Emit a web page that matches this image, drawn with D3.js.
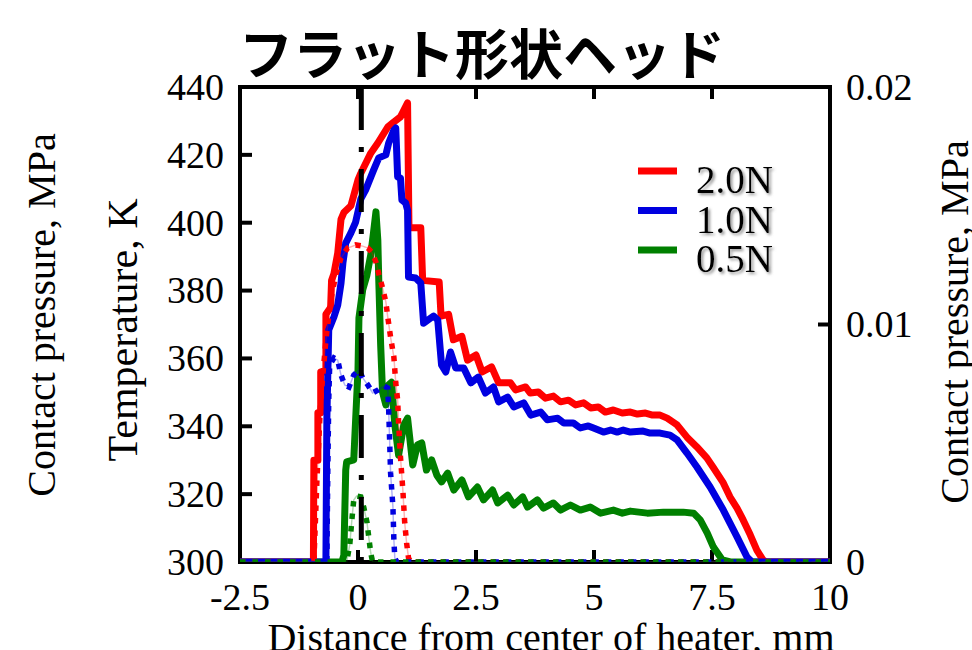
<!DOCTYPE html>
<html>
<head>
<meta charset="utf-8">
<script src="https://cdn.jsdelivr.net/npm/d3@7"></script>
<style>
  body { margin: 0; background: #fff; }
  svg { display: block; }
  text { font-family: "Liberation Serif", "Times New Roman", serif; fill: #000; }
</style>
</head>
<body>
<svg class="heat-chart" width="972" height="650"></svg>
<script>
// x: distance from heater center (mm), temperature in K
const temp20 = [
  [-2.5,300],[-0.945,300],[-0.935,330],[-0.85,330],[-0.85,344],[-0.79,344],[-0.79,356],[-0.68,356],
  [-0.68,373],[-0.58,375],[-0.56,383],[-0.51,385],[-0.43,391],[-0.36,401],[-0.3,403],[-0.15,405],
  [0,412.6],[0.06,414.6],[0.27,420.5],[0.42,423.5],[0.63,428.2],[0.76,429.7],[0.9,431.2],[1.05,435.3],
  [1.08,398.5],[1.33,398.5],[1.37,383],[1.72,382.5],[1.76,372.5],[1.92,373],[2.02,365.5],[2.2,366.5],
  [2.32,359.5],[2.5,361],[2.63,356],[2.83,357.5],[2.98,352.8],[3.23,352.8],[3.34,350.7],[3.55,351.6],
  [3.65,349.8],[3.82,350.1],[3.97,348.3],[4.14,348.9],[4.29,347.2],[4.46,347.7],[4.61,346.3],[4.78,346.9],
  [4.93,345.4],[5.09,345.7],[5.24,344.2],[5.41,344.8],[5.6,343.9],[5.77,344.2],[5.92,343.6],[6.09,343.9],
  [6.24,343.3],[6.4,343.3],[6.55,342.4],[6.76,340.4],[6.97,336.8],[7.18,333.9],[7.39,330.7],[7.52,328],
  [7.74,323.3],[7.88,319.2],[8.03,315.9],[8.16,312.4],[8.31,308],[8.45,303.5],[8.58,300.6],[8.65,300],[10,300]
]
const temp10 = [
  [-2.5,300],[-0.68,300],[-0.66,341.9],[-0.62,368.4],[-0.51,372.2],[-0.43,375.7],[-0.36,382.2],[-0.32,388.1],
  [-0.26,394],[-0.15,397],[-0.05,400.2],[0.06,407],[0.16,409.6],[0.33,415.5],[0.44,419.1],[0.59,420],
  [0.65,423.5],[0.76,427.3],[0.8,427.9],[0.84,413.5],[0.9,413.2],[0.93,406.7],[1.01,405.8],[1.05,403.7],
  [1.07,384],[1.22,383.7],[1.33,382.2],[1.39,370.4],[1.6,372.5],[1.69,371.3],[1.77,358.1],[1.86,356],
  [1.96,361.9],[2.07,357.2],[2.24,357.2],[2.39,352.8],[2.55,354.5],[2.7,349.8],[2.87,351.6],[2.98,347.2],
  [3.17,348.6],[3.3,345.7],[3.51,346.9],[3.66,343.3],[3.87,344.2],[4.01,341.9],[4.23,342.4],[4.36,341],
  [4.56,341],[4.71,339.5],[4.88,340.1],[4.99,339.5],[5.2,338.3],[5.35,338.9],[5.49,338.3],[5.62,338.9],
  [5.77,338.3],[6.04,338.6],[6.19,338],[6.4,338],[6.61,337.4],[6.76,336],[6.97,332.1],[7.18,328],
  [7.46,322.1],[7.74,315.3],[8.03,307.4],[8.24,301.5],[8.35,300],[10,300]
]
const temp05 = [
  [-2.5,300],[-0.34,300],[-0.3,302],[-0.26,327.1],[-0.24,329.5],[-0.09,330.1],[-0.05,341.9],[0,356.6],
  [0.02,371.9],[0.1,380.2],[0.19,384.6],[0.27,390.5],[0.33,397.3],[0.38,403.2],[0.42,394.9],[0.44,383.1],
  [0.48,364],[0.52,350.1],[0.59,346.3],[0.65,352.2],[0.71,353],[0.78,340.4],[0.86,331.5],[0.97,340.4],
  [1.05,342.4],[1.16,328.6],[1.26,334.5],[1.35,335.1],[1.45,327.1],[1.56,330.1],[1.67,325.6],[1.77,323.6],
  [1.9,326.2],[2.03,321.2],[2.2,324.2],[2.34,319.2],[2.53,322.1],[2.66,318.3],[2.85,321.2],[2.96,317.4],
  [3.17,319.7],[3.3,316.8],[3.49,319.2],[3.59,316.2],[3.8,318.3],[3.93,315.9],[4.14,317.4],[4.29,315.3],
  [4.5,316.8],[4.71,315.3],[4.92,316.2],[5.14,314.4],[5.41,315.3],[5.6,314.4],[5.77,315],[6.13,314.4],
  [6.47,314.7],[6.89,314.7],[7.11,314.4],[7.25,312.4],[7.4,308.5],[7.53,304.4],[7.72,300.6],[7.89,300],[10,300]
]
// contact pressure in MPa (right axis)
const press20 = [
  [-2.5,0],[-0.935,0],[-0.87,0.00345],[-0.79,0.00682],[-0.68,0.00935],[-0.58,0.01103],[-0.47,0.01208],
  [-0.36,0.0128],[-0.22,0.01322],[-0.05,0.01335],[0.1,0.0133],[0.21,0.01322],[0.29,0.01305],[0.38,0.01263],
  [0.44,0.01213],[0.52,0.01154],[0.59,0.01095],[0.63,0.01032],[0.69,0.00947],[0.76,0.00863],[0.8,0.00754],
  [0.84,0.00682],[0.86,0.00585],[0.9,0.00442],[0.95,0.00303],[0.99,0.00164],[1.03,0.0008],[1.07,0.00017],
  [1.12,0],[10,0]
]
const press10 = [
  [-2.5,0],[-0.66,0],[-0.64,0.00387],[-0.62,0.00682],[-0.6,0.00829],[-0.51,0.00859],[-0.43,0.0085],
  [-0.36,0.00787],[-0.28,0.00745],[-0.19,0.00737],[-0.09,0.00787],[0.02,0.00808],[0.1,0.00775],[0.21,0.00745],
  [0.31,0.00712],[0.42,0.00724],[0.55,0.00741],[0.63,0.00733],[0.65,0.0064],[0.67,0.00514],[0.69,0.00375],
  [0.74,0.00232],[0.76,0.00093],[0.78,0.00017],[0.82,0],[10,0]
]
const press05 = [
  [-2.5,0],[-0.24,0],[-0.175,0.00072],[-0.13,0.00177],[-0.09,0.00261],[-0.03,0.00278],[0.06,0.00274],
  [0.12,0.00232],[0.19,0.00168],[0.23,0.00101],[0.27,0.00038],[0.31,0],[10,0]
]
const heaterCenter = 0.07

const xTicks = [-2.5,0,2.5,5,7.5,10]
const xTickLabels = ['-2.5','0','2.5','5','7.5','10']
const yTicks = [300,320,340,360,380,400,420,440]
const y2Ticks = [0,0.01,0.02]
const y2TickLabels = ['0','0.01','0.02']
const legendLabels = ['2.0N','1.0N','0.5N']
const colors = ['#ff0000','#0000e0','#008000']

const svg = d3.select('svg.heat-chart')
const pLeft = 240, pRight = 830, pTop = 87, pBottom = 562

const x = d3.scaleLinear().domain([-2.5,10]).range([pLeft,pRight])
const y = d3.scaleLinear().domain([300,440]).range([pBottom,pTop])
const y2 = d3.scaleLinear().domain([0,0.02]).range([pBottom,pTop])

const defs = svg.append('defs')
defs.append('clipPath').attr('id','plotClip')
    .append('rect').attr('x',pLeft).attr('y',pTop).attr('width',pRight-pLeft).attr('height',pBottom-pTop)
defs.append('filter').attr('id','shadow').attr('x','-20%').attr('y','-20%').attr('width','150%').attr('height','150%')
    .append('feDropShadow').attr('dx',2).attr('dy',2).attr('stdDeviation',1.5)
    .attr('flood-color','#777').attr('flood-opacity',0.8)

// title
svg.append('text')
   .attr('x',482).attr('y',75)
   .attr('text-anchor','middle')
   .style('font-family','"Noto Sans CJK JP", sans-serif')
   .style('font-weight','700').style('font-size','54px')
   .text('フラット形状ヘッド')

// frame
svg.append('rect')
   .attr('x',pLeft).attr('y',pTop).attr('width',pRight-pLeft).attr('height',pBottom-pTop)
   .attr('fill','none').attr('stroke','#000').attr('stroke-width',4)

// ticks (inward)
const tickG = svg.append('g').attr('stroke','#000').attr('stroke-width',4)
xTicks.slice(1,-1).forEach(t=>{
  tickG.append('line').attr('x1',x(t)).attr('x2',x(t)).attr('y1',pBottom).attr('y2',pBottom-12)
  tickG.append('line').attr('x1',x(t)).attr('x2',x(t)).attr('y1',pTop).attr('y2',pTop+12)
})
yTicks.slice(1,-1).forEach(t=>{
  tickG.append('line').attr('x1',pLeft).attr('x2',pLeft+12).attr('y1',y(t)).attr('y2',y(t))
})
y2Ticks.slice(1,-1).forEach(t=>{
  tickG.append('line').attr('x1',pRight).attr('x2',pRight-12).attr('y1',y2(t)).attr('y2',y2(t))
})

// tick labels
const lab = svg.append('g').style('font-size','38px')
xTicks.forEach((t,i)=>{
  lab.append('text').attr('x',x(t)).attr('y',610).attr('text-anchor','middle').text(xTickLabels[i])
})
yTicks.forEach(t=>{
  lab.append('text').attr('x',224).attr('y',y(t)).attr('dy','0.34em').attr('text-anchor','end').text(t)
})
y2Ticks.forEach((t,i)=>{
  lab.append('text').attr('x',846).attr('y',y2(t)).attr('dy','0.34em').attr('text-anchor','start').text(y2TickLabels[i])
})

// axis titles (right and bottom ones run past the edge, as in the source figure)
svg.append('text').attr('transform','translate(137,330) rotate(-90)')
   .attr('text-anchor','middle').style('font-size','42px').text('Temperature, K')
svg.append('text').attr('transform','translate(55,315) rotate(-90)')
   .attr('text-anchor','middle').style('font-size','40px').text('Contact pressure, MPa')
svg.append('text').attr('transform','translate(968,322) rotate(-90)')
   .attr('text-anchor','middle').style('font-size','40px').text('Contact pressure, MPa')
svg.append('text').attr('x',551).attr('y',651)
   .attr('text-anchor','middle').style('font-size','40px').text('Distance from center of heater, mm')

// curves
const tLine = d3.line().x(d=>x(d[0])).y(d=>y(d[1]))
const pLine = d3.line().x(d=>x(d[0])).y(d=>y2(d[1]))
const plot = svg.append('g').attr('clip-path','url(#plotClip)')

const solids = [[temp05,2],[temp20,0],[temp10,1]]
solids.forEach(([data,c])=>{
  plot.append('path').datum(data).attr('d',tLine)
      .attr('fill','none').attr('stroke',colors[c]).attr('stroke-width',7)
      .attr('stroke-linejoin','round')
})

const dotted = [[press20,0],[press10,1],[press05,2]]
dotted.forEach(([data,c])=>{
  plot.append('path').datum(data).attr('d',pLine)
      .attr('fill','none').attr('stroke',colors[c]).attr('stroke-width',1.5).attr('opacity',0.3)
  plot.append('path').datum(data).attr('d',pLine)
      .attr('fill','none').attr('stroke',colors[c]).attr('stroke-width',5.5)
      .attr('stroke-dasharray','5.5,7')
})

// heater center dash-dot line
plot.append('line')
    .attr('x1',x(heaterCenter)).attr('x2',x(heaterCenter))
    .attr('y1',y(440)).attr('y2',y(300))
    .attr('stroke','#000').attr('stroke-width',5)
    .attr('stroke-dasharray','43,17,5,17')

// legend
const leg = svg.append('g')
legendLabels.forEach((l,i)=>{
  const ly = 171 + i*39.5
  leg.append('line').attr('x1',638).attr('x2',677).attr('y1',ly).attr('y2',ly)
     .attr('stroke',colors[i]).attr('stroke-width',7)
  leg.append('text').attr('x',696).attr('y',ly+22)
     .style('font-size','39px').attr('filter','url(#shadow)').text(l)
})
</script>
</body>
</html>
